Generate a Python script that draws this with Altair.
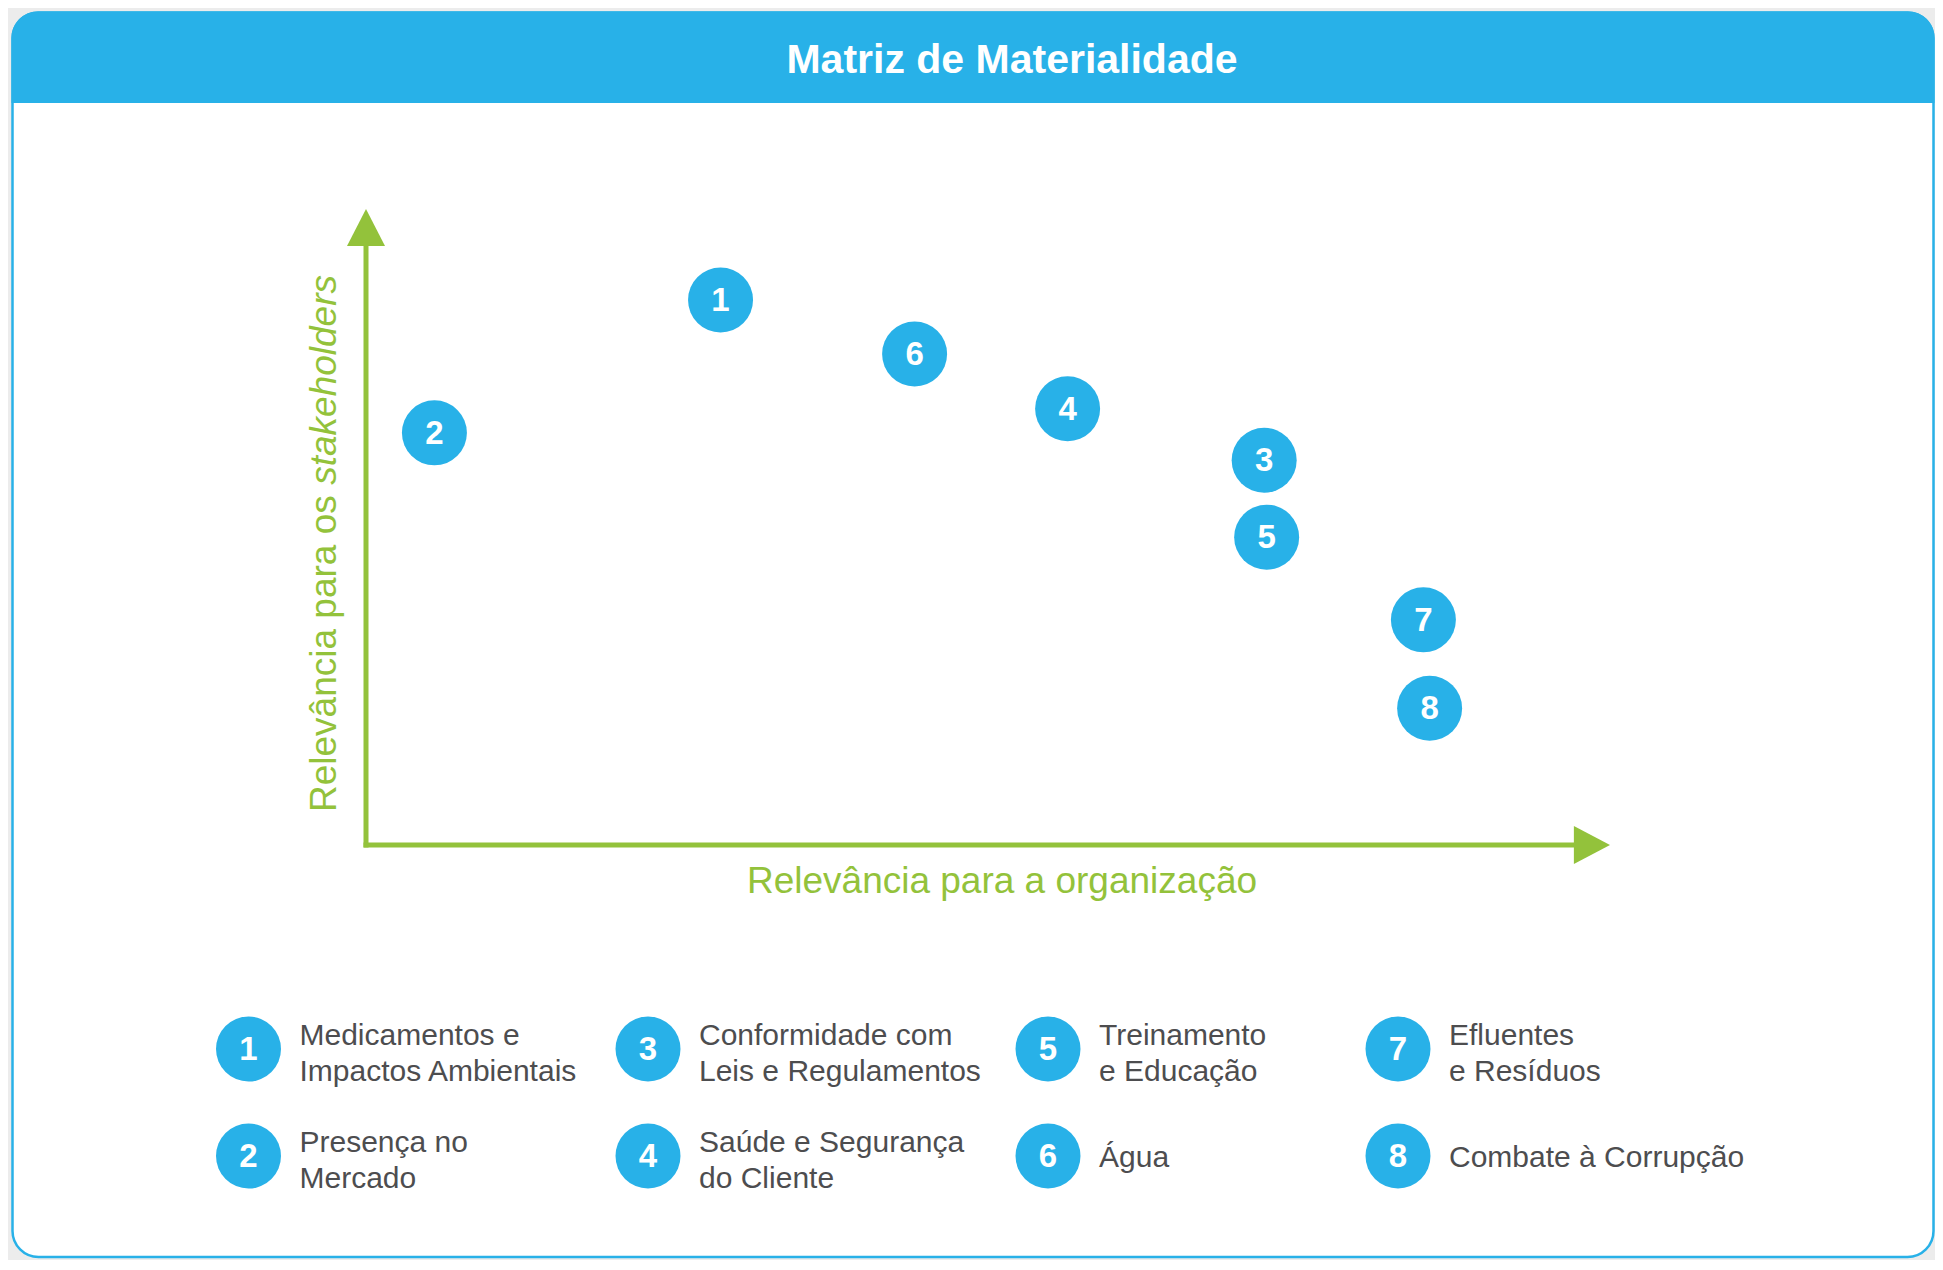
import altair as alt
import pandas as pd

# ---------------- data ----------------
topic_ids = [1, 2, 3, 4, 5, 6, 7, 8]
org_relevance = [2.85, 0.55, 7.22, 5.64, 7.24, 4.41, 8.50, 8.55]          # x
stakeholder_relevance = [8.57, 6.48, 6.05, 6.86, 4.84, 7.72, 3.54, 2.15]  # y
topic_labels = [
    "Medicamentos e\nImpactos Ambientais",
    "Presença no\nMercado",
    "Conformidade com\nLeis e Regulamentos",
    "Saúde e Segurança\ndo Cliente",
    "Treinamento\ne Educação",
    "Água",
    "Efluentes\ne Resíduos",
    "Combate à Corrupção",
]
title_text = "Matriz de Materialidade"
x_title = "Relevância para a organização"
y_title_plain = "Relevância para os"
y_title_italic = "stakeholders"
axis_max = 10

# ---------------- layout / style ----------------
W, H = 1927, 1252
ORIGIN = (358, 837)        # pixel position of (0, 0)
AXIS_PX = (1244, 636)      # pixel length of the axes up to the arrow tips
BLUE = "#28B1E8"
GREEN = "#93C23B"
GRAY_TXT = "#4D4D4F"
FRAME = "#ECECEC"
FONT = "Liberation Sans"
CIRCLE_SIZE = 65 ** 2      # vega circle: diameter = sqrt(size)
ARROW_SIZE = 1444

ppx = AXIS_PX[0] / axis_max
ppy = AXIS_PX[1] / axis_max
x_dom = [-ORIGIN[0] / ppx, (W - ORIGIN[0]) / ppx]
y_dom = [(ORIGIN[1] - H) / ppy, ORIGIN[1] / ppy]
xs = alt.Scale(domain=x_dom, nice=False, zero=False)
ys = alt.Scale(domain=y_dom, nice=False, zero=False)

topics = pd.DataFrame({
    "id": topic_ids,
    "num": [str(i) for i in topic_ids],
    "org": org_relevance,
    "stk": stakeholder_relevance,
    "label": topic_labels,
})

LEG_COL_PX = [240.5, 640, 1040, 1390]
LEG_ROW_PX = [1041, 1148]
topics["lx"] = [LEG_COL_PX[(i - 1) // 2] for i in topic_ids]
topics["ly"] = [LEG_ROW_PX[(i - 1) % 2] for i in topic_ids]
topics["tx"] = topics["lx"] + 51
topics["ty"] = topics["ly"] - 15 * (topics["label"].str.count("\n"))

one = pd.DataFrame({"k": [0]})

# ---------------- card ----------------
frame = alt.Chart(one).mark_rect(fill=FRAME, cornerRadius=30).encode(
    x=alt.value(-5), x2=alt.value(W + 30), y=alt.value(-4), y2=alt.value(H + 30))
card = alt.Chart(one).mark_rect(fill="white", stroke=BLUE, strokeWidth=2.5, cornerRadius=26).encode(
    x=alt.value(4.5), x2=alt.value(W - 1.5), y=alt.value(4.5), y2=alt.value(H - 3))
header = alt.Chart(one).mark_rect(fill=BLUE, cornerRadiusTopLeft=26, cornerRadiusTopRight=26).encode(
    x=alt.value(3.5), x2=alt.value(W - 0.5), y=alt.value(3.5), y2=alt.value(95))
title = alt.Chart(pd.DataFrame({"t": [title_text]})).mark_text(
    font=FONT, fontSize=41, fontWeight="bold", color="white", align="center", baseline="middle", dy=2
).encode(x=alt.value(1004), y=alt.value(51), text="t:N")

# ---------------- axes (arrows) ----------------
tuck = 20 / ppx
axes = pd.DataFrame({
    "x": [0, 0], "y": [0, 0],
    "x2": [axis_max - tuck, 0], "y2": [0, axis_max - 20 / ppy],
})
axis_lines = alt.Chart(axes).mark_rule(color=GREEN, strokeWidth=5, strokeCap="square").encode(
    x=alt.X("x:Q", scale=xs, axis=None), x2="x2:Q",
    y=alt.Y("y:Q", scale=ys, axis=None), y2="y2:Q")

heads = pd.DataFrame({"x": [axis_max, 0], "y": [0, axis_max], "dir": ["right", "up"]})
head_right = alt.Chart(heads).transform_filter("datum.dir == 'right'").mark_point(
    shape="M0,0L-1.9,-1L-1.9,1Z", filled=True, fill=GREEN, opacity=1, size=ARROW_SIZE, strokeWidth=0
).encode(x=alt.X("x:Q", scale=xs, axis=None), y=alt.Y("y:Q", scale=ys, axis=None))
head_up = alt.Chart(heads).transform_filter("datum.dir == 'up'").mark_point(
    shape="M0,0L-1,1.95L1,1.95Z", filled=True, fill=GREEN, opacity=1, size=ARROW_SIZE, strokeWidth=0
).encode(x=alt.X("x:Q", scale=xs, axis=None), y=alt.Y("y:Q", scale=ys, axis=None))

xlab = alt.Chart(pd.DataFrame({"t": [x_title]})).mark_text(
    font=FONT, fontSize=37, color=GREEN, align="center", baseline="alphabetic"
).encode(x=alt.value(994), y=alt.value(885), text="t:N")
ylab1 = alt.Chart(pd.DataFrame({"t": [y_title_plain]})).mark_text(
    font=FONT, fontSize=37, color=GREEN, align="left", baseline="alphabetic", angle=270
).encode(x=alt.value(328), y=alt.value(804), text="t:N")
ylab2 = alt.Chart(pd.DataFrame({"t": [y_title_italic]})).mark_text(
    font=FONT, fontSize=37, fontStyle="italic", color=GREEN, align="right", baseline="alphabetic", angle=270
).encode(x=alt.value(328), y=alt.value(267), text="t:N")

# ---------------- matrix points ----------------
base = alt.Chart(topics)
dots = base.mark_circle(color=BLUE, opacity=1, size=CIRCLE_SIZE).encode(
    x=alt.X("org:Q", scale=xs, axis=None), y=alt.Y("stk:Q", scale=ys, axis=None))
nums = base.mark_text(font=FONT, fontSize=33, fontWeight="bold", color="white",
                      align="center", baseline="middle", dy=1).encode(
    x=alt.X("org:Q", scale=xs, axis=None), y=alt.Y("stk:Q", scale=ys, axis=None), text="num:N")

# ---------------- legend ----------------
leg_dots = base.mark_circle(color=BLUE, opacity=1, size=CIRCLE_SIZE).encode(
    x=alt.X("lx:Q", scale=None), y=alt.Y("ly:Q", scale=None))
leg_nums = base.mark_text(font=FONT, fontSize=33, fontWeight="bold", color="white",
                          align="center", baseline="middle", dy=1).encode(
    x=alt.X("lx:Q", scale=None), y=alt.Y("ly:Q", scale=None), text="num:N")
leg_txt = base.mark_text(font=FONT, fontSize=30, color=GRAY_TXT, align="left", baseline="middle",
                         lineBreak="\n", lineHeight=36, dy=2).encode(
    x=alt.X("tx:Q", scale=None), y=alt.Y("ty:Q", scale=None), text="label:N")

chart = alt.layer(
    frame, card, header, title,
    axis_lines, head_right, head_up, xlab, ylab1, ylab2,
    dots, nums, leg_dots, leg_nums, leg_txt,
).properties(
    width=W, height=H, padding=0, autosize=alt.AutoSizeParams(type="none"), background=FRAME
).configure_view(stroke=None)

chart.save("out.html", embed_options={"renderer": "svg", "actions": False})
